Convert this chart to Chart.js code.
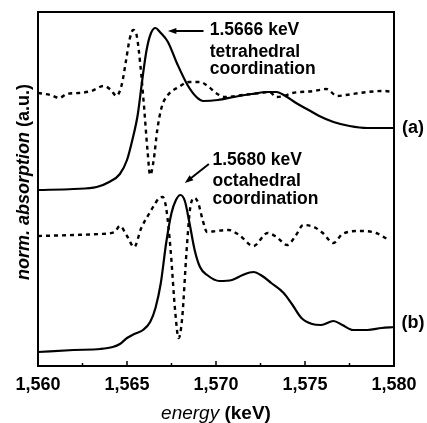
<!DOCTYPE html>
<html>
<head>
<meta charset="utf-8">
<title>XANES spectra</title>
<script src="https://cdn.jsdelivr.net/npm/chart.js@4.4.1/dist/chart.umd.min.js"></script>
<style>
    body { margin: 0; background: #fff; }
    #chart { display: block; }
</style>
</head>
<body>
<canvas id="chart" width="427" height="423"></canvas>
<script>
// energy (keV) and normalised absorption (a.u.)
const aSolidX = [1560, 1562, 1563.3, 1564, 1564.6, 1565, 1565.3, 1565.6, 1565.85, 1566.1, 1566.35, 1566.6, 1566.85, 1567.3, 1567.8, 1568.4, 1568.9, 1569.3, 1570.1, 1571, 1572, 1572.9, 1573.4, 1573.9, 1574.5, 1575.2, 1575.8, 1576.6, 1577.5, 1578.5, 1580];
const aSolidY = [176, 177, 179, 184, 192, 206, 226, 251, 285, 316, 333, 338, 334, 324, 303, 281, 269, 265, 266, 269, 272, 274, 274, 270, 263, 256, 250, 244, 240, 238, 238];

const aDashX = [1560, 1560.7, 1561.2, 1561.6, 1562.3, 1563, 1563.7, 1564.1, 1564.4, 1564.7, 1564.95, 1565.15, 1565.35, 1565.55, 1565.75, 1565.95, 1566.15, 1566.3, 1566.5, 1566.7, 1566.95, 1567.3, 1567.9, 1568.5, 1569.1, 1569.6, 1570, 1570.5, 1571.5, 1572.5, 1573, 1573.4, 1573.8, 1574.3, 1575.5, 1576.2, 1576.8, 1577.3, 1578.5, 1579.4, 1580];
const aDashY = [273, 271, 268, 272, 273, 275, 280, 276, 270, 281, 306, 327, 336, 330, 301, 261, 216, 191, 206, 236, 259, 271, 279, 284, 284, 279, 273, 269, 271, 273, 274, 269, 270, 273, 275, 277, 270, 271, 274, 275, 274];

const bSolidX = [1560, 1562, 1563.5, 1564.2, 1564.6, 1565, 1565.4, 1565.9, 1566.3, 1566.6, 1566.9, 1567.2, 1567.5, 1567.75, 1568, 1568.25, 1568.5, 1568.8, 1569.1, 1569.5, 1570.2, 1570.9, 1571.5, 1572.1, 1572.6, 1573.1, 1573.8, 1574.3, 1574.8, 1575.4, 1575.9, 1576.6, 1577.1, 1577.7, 1578.5, 1579.3, 1580];
const bSolidY = [14, 16, 17, 19, 22, 28, 32, 36, 44, 58, 83, 123, 153, 166, 171, 165, 144, 116, 99, 91, 85, 86, 91, 94, 90, 83, 73, 61, 48, 42, 41, 45, 41, 36, 36, 38, 39];

const bDashX = [1560, 1562, 1563.5, 1564.3, 1564.6, 1565, 1565.4, 1565.8, 1566.2, 1566.5, 1566.8, 1567, 1567.2, 1567.45, 1567.7, 1567.9, 1568.1, 1568.35, 1568.55, 1568.8, 1569, 1569.25, 1569.5, 1570, 1570.7, 1571.3, 1572.1, 1572.9, 1573.4, 1574, 1574.5, 1574.9, 1575.5, 1576, 1576.6, 1577.1, 1578.1, 1579, 1579.7];
const bDashY = [130, 131, 132, 134, 140, 130, 119, 138, 151, 160, 168, 169, 158, 116, 56, 28, 48, 116, 158, 168, 163, 146, 134, 135, 136, 131, 120, 133, 129, 121, 131, 141, 139, 133, 123, 132, 135, 133, 126];

const xTicks = [1560, 1565, 1570, 1575, 1580];
const yMax = 354;

// annotation text and where it sits (keV, a.u.)
const noteA = { lines: ['1.5666 keV', 'tetrahedral', 'coordination'], x: 1569.65, y: [331, 309, 292], from: [1569.3, 335], to: [1567.3, 335] };
const noteB = { lines: ['1.5680 keV', 'octahedral', 'coordination'], x: 1569.8, y: [201, 180, 162], from: [1569.6, 202], to: [1568.25, 183] };
const sideLabels = [{ text: '(a)', y: 238 }, { text: '(b)', y: 43 }];

const FONT = '"Liberation Sans", Arial, sans-serif';

function pairs(xs, ys) {
    return xs.map((x, i) => ({ x: x, y: ys[i] }));
}

function series(xs, ys, dashed) {
    return {
        data: pairs(xs, ys),
        borderColor: '#000',
        borderWidth: dashed ? 2.4 : 2.2,
        borderDash: dashed ? [4, 4] : [],
        pointRadius: 0,
        fill: false,
        cubicInterpolationMode: 'monotone'
    };
}

function drawArrow(ctx, x1, y1, x2, y2) {
    const ang = Math.atan2(y2 - y1, x2 - x1);
    const head = 9;
    ctx.beginPath();
    ctx.moveTo(x1, y1);
    ctx.lineTo(x2 - Math.cos(ang) * 4, y2 - Math.sin(ang) * 4);
    ctx.stroke();
    ctx.beginPath();
    ctx.moveTo(x2, y2);
    ctx.lineTo(x2 - head * Math.cos(ang - 0.35), y2 - head * Math.sin(ang - 0.35));
    ctx.lineTo(x2 - head * Math.cos(ang + 0.35), y2 - head * Math.sin(ang + 0.35));
    ctx.closePath();
    ctx.fill();
}

// frame, inward ticks, axis titles and the notes
const decor = {
    id: 'decor',
    afterDraw(chart) {
        const ctx = chart.ctx;
        const area = chart.chartArea;
        const xs = chart.scales.x;
        const ys = chart.scales.y;
        ctx.save();
        ctx.strokeStyle = '#000';
        ctx.fillStyle = '#000';
        ctx.lineWidth = 2;
        ctx.strokeRect(area.left, area.top, area.right - area.left, area.bottom - area.top);

        ctx.lineWidth = 1.5;
        for (let v = 1560; v <= 1580; v += 2.5) {
            const px = xs.getPixelForValue(v);
            const len = v % 5 === 0 ? 5 : 3;
            ctx.beginPath();
            ctx.moveTo(px, area.bottom);
            ctx.lineTo(px, area.bottom - len);
            ctx.stroke();
        }

        // x title: italic word + plain unit
        ctx.textBaseline = 'alphabetic';
        const p1 = 'energy ', p2 = '(keV)';
        ctx.font = 'italic 19px ' + FONT;
        const w1 = ctx.measureText(p1).width;
        ctx.font = 'bold 19px ' + FONT;
        const w2 = ctx.measureText(p2).width;
        let sx = (area.left + area.right) / 2 - (w1 + w2) / 2;
        ctx.font = 'italic 19px ' + FONT;
        ctx.textAlign = 'left';
        ctx.fillText(p1, sx, 419);
        ctx.font = 'bold 19px ' + FONT;
        ctx.fillText(p2, sx + w1, 419);

        // y title, rotated
        const q1 = 'norm. absorption ', q2 = '(a.u.)';
        ctx.font = 'italic bold 18px ' + FONT;
        const v1 = ctx.measureText(q1).width;
        ctx.font = 'bold 18px ' + FONT;
        const v2 = ctx.measureText(q2).width;
        ctx.save();
        ctx.translate(29, 182);
        ctx.rotate(-Math.PI / 2);
        const sy = -(v1 + v2) / 2;
        ctx.font = 'italic bold 18px ' + FONT;
        ctx.fillText(q1, sy, 0);
        ctx.font = 'bold 18px ' + FONT;
        ctx.fillText(q2, sy + v1, 0);
        ctx.restore();

        // notes with arrows
        ctx.lineWidth = 2;
        [noteA, noteB].forEach(n => {
            const tx = xs.getPixelForValue(n.x);
            n.lines.forEach((line, i) => {
                ctx.font = 'bold 17.5px ' + FONT;
                ctx.fillText(line, tx, ys.getPixelForValue(n.y[i]));
            });
            drawArrow(ctx, xs.getPixelForValue(n.from[0]), ys.getPixelForValue(n.from[1]),
                xs.getPixelForValue(n.to[0]), ys.getPixelForValue(n.to[1]));
        });

        ctx.font = 'bold 18px ' + FONT;
        ctx.textAlign = 'center';
        ctx.textBaseline = 'middle';
        sideLabels.forEach(l => {
            ctx.fillText(l.text, area.right + 19, ys.getPixelForValue(l.y));
        });
        ctx.restore();
    }
};

document.addEventListener('DOMContentLoaded', function() {
    const ctx = document.getElementById('chart').getContext('2d');

    new Chart(ctx, {
        type: 'line',
        data: {
            datasets: [
                series(aSolidX, aSolidY, false),
                series(aDashX, aDashY, true),
                series(bSolidX, bSolidY, false),
                series(bDashX, bDashY, true)
            ]
        },
        options: {
            responsive: false,
            animation: false,
            layout: { padding: { top: 12, right: 33, left: 0, bottom: 0 } },
            plugins: {
                legend: { display: false },
                tooltip: { enabled: false }
            },
            scales: {
                x: {
                    type: 'linear',
                    min: 1560,
                    max: 1580,
                    afterBuildTicks: s => { s.ticks = xTicks.map(v => ({ value: v })); },
                    afterFit: s => { s.height = 57; },
                    ticks: {
                        color: '#000',
                        padding: 8,
                        maxRotation: 0,
                        font: { family: FONT, size: 18, weight: 'bold' },
                        callback: v => v.toLocaleString('en-US')
                    },
                    grid: { display: false, drawTicks: false },
                    border: { display: false }
                },
                y: {
                    min: 0,
                    max: yMax,
                    afterFit: s => { s.width = 38; },
                    ticks: { display: false },
                    grid: { display: false, drawTicks: false },
                    border: { display: false }
                }
            }
        },
        plugins: [decor]
    });
});
</script>
</body>
</html>
